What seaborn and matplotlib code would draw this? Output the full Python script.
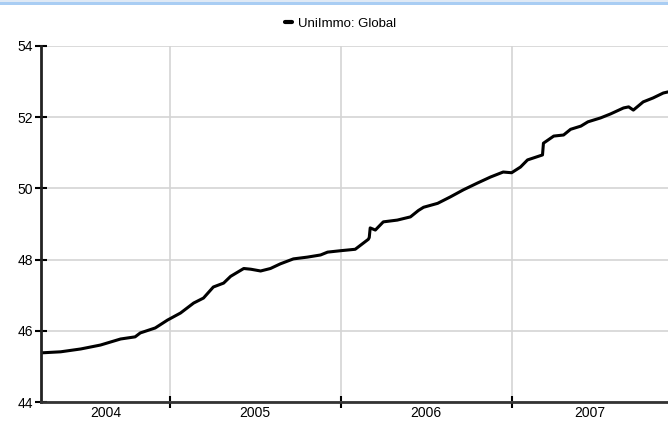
import matplotlib
matplotlib.use("Agg")
import matplotlib.pyplot as plt
from matplotlib.patches import Rectangle
import pandas as pd
import seaborn as sns

# ---- data ----
dates = [
    "2004-04-01", "2004-05-13", "2004-06-25", "2004-08-06", "2004-09-18",
    "2004-10-19", "2004-10-30", "2004-12-01", "2004-12-27", "2005-01-24",
    "2005-02-21", "2005-03-14", "2005-04-04", "2005-04-26", "2005-05-11",
    "2005-06-08", "2005-06-23", "2005-07-14", "2005-08-04", "2005-08-25",
    "2005-09-22", "2005-10-22", "2005-11-19", "2005-12-04", "2006-01-01",
    "2006-02-01", "2006-02-19", "2006-03-01", "2006-03-03", "2006-03-05",
    "2006-03-16", "2006-04-02", "2006-05-02", "2006-05-30", "2006-06-16",
    "2006-06-27", "2006-07-27", "2006-08-23", "2006-09-20", "2006-10-20",
    "2006-11-17", "2006-12-14", "2007-01-01", "2007-01-20", "2007-02-04",
    "2007-03-08", "2007-03-10", "2007-04-01", "2007-04-22", "2007-05-07",
    "2007-05-29", "2007-06-13", "2007-07-10", "2007-07-31", "2007-08-28",
    "2007-09-08", "2007-09-18", "2007-10-09", "2007-10-30", "2007-11-21",
    "2007-12-01",
]
values = [
    45.38, 45.41, 45.49, 45.60, 45.77,
    45.83, 45.94, 46.08, 46.30, 46.50,
    46.78, 46.92, 47.23, 47.34, 47.53,
    47.75, 47.73, 47.68, 47.75, 47.88,
    48.02, 48.07, 48.13, 48.21, 48.25,
    48.29, 48.47, 48.57, 48.62, 48.89,
    48.83, 49.06, 49.11, 49.20, 49.38,
    49.47, 49.58, 49.76, 49.96, 50.15,
    50.32, 50.46, 50.44, 50.60, 50.80,
    50.94, 51.27, 51.47, 51.50, 51.66,
    51.75, 51.87, 51.98, 52.09, 52.26,
    52.29, 52.20, 52.43, 52.54, 52.68,
    52.71,
]
series_name = "UniImmo: Global"
year_labels = ["2004", "2005", "2006", "2007"]
y_ticks = [44, 46, 48, 50, 52, 54]

df = pd.DataFrame({"date": pd.to_datetime(dates), "value": values, "series": series_name})

sns.set_style("white")
plt.rcParams["font.family"] = ["Liberation Sans", "DejaVu Sans"]

fig = plt.figure(figsize=(6.68, 4.21), dpi=100)
ax = fig.add_axes([41 / 668, 19 / 421, 1 - 41 / 668, (402 - 46) / 421])

sns.lineplot(data=df, x="date", y="value", hue="series", palette=["black"],
             linewidth=2.2, ax=ax, legend=True)

x0 = pd.Timestamp("2004-04-01")
x1 = pd.Timestamp("2007-12-01")
ax.set_xlim(x0, x1)
ax.set_ylim(44, 54)

# year boundaries as major ticks (grid), year labels centred in visible span
bounds = [pd.Timestamp(f"{y}-01-01") for y in range(2005, 2008)]
ax.set_xticks(bounds)
ax.set_xticklabels([])
edges = [x0] + bounds + [x1]
mids = [edges[i] + (edges[i + 1] - edges[i]) / 2 for i in range(len(year_labels))]
ax.set_xticks(mids, minor=True)
ax.set_xticklabels(year_labels, minor=True)
ax.tick_params(bottom=True, left=True)
ax.tick_params(axis="x", which="minor", length=0, pad=3, labelsize=10, labelcolor="black")
ax.tick_params(axis="x", which="major", direction="inout", length=8, width=1.5, color="black")

ax.set_yticks(y_ticks)
ax.set_yticklabels([str(v) for v in y_ticks])
ax.set_yticks([45, 47, 49, 51, 53], minor=True)
ax.tick_params(axis="y", which="both", direction="inout", length=8, width=1.5,
               color="black", labelsize=10, labelcolor="black", pad=2)

ax.grid(True, which="major", color="#d4d4d4", linewidth=1.2)
ax.set_axisbelow(True)
ax.set_xlabel("")
ax.set_ylabel("")
for s in ["top", "right"]:
    ax.spines[s].set_visible(False)
ax.spines["left"].set_color("#222222")
ax.spines["left"].set_linewidth(2)
ax.spines["bottom"].set_color("#333333")
ax.spines["bottom"].set_linewidth(2)

leg = ax.legend(loc="center", bbox_to_anchor=(0.51, 1 - 24 / 421), bbox_transform=fig.transFigure,
                frameon=False, fontsize=9.5, handlelength=0.5, handletextpad=0.5)
for h in leg.get_lines():
    h.set_linewidth(3)
for t in leg.get_texts():
    t.set_color("black")

# window border strip at the top of the screenshot
fig.add_artist(Rectangle((0, 1 - 2 / 421), 1, 2 / 421, transform=fig.transFigure,
                         color="#dfe9f5", linewidth=0))
fig.add_artist(Rectangle((0, 1 - 5 / 421), 1, 3 / 421, transform=fig.transFigure,
                         color="#a9cdf3", linewidth=0))

fig.savefig("out.png", dpi=100)
